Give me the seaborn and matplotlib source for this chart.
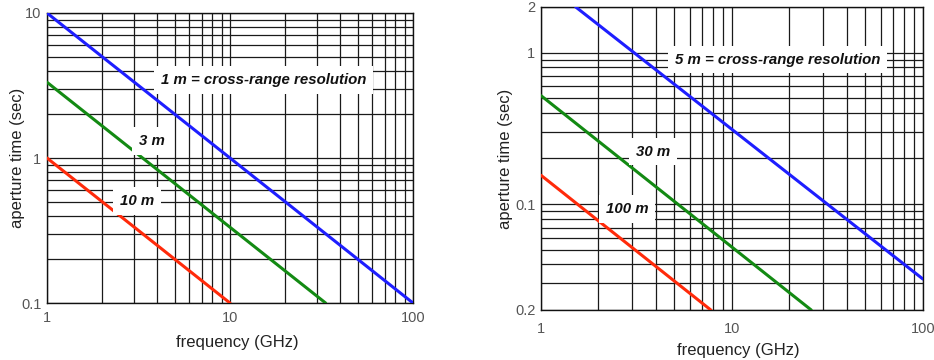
import matplotlib
matplotlib.use("Agg")
import matplotlib.pyplot as plt
import seaborn as sns
import pandas as pd
from matplotlib.ticker import LogLocator, NullFormatter, FixedLocator, FixedFormatter

# ---- data: aperture time vs. frequency for several cross-range resolutions ----
left_res = ["1 m", "3 m", "10 m"]
left_freq_start = [1, 1, 1]
left_freq_end = [100, 33.3, 10]
left_time_start = [10, 3.33, 1.0]
left_time_end = [0.1, 0.1, 0.1]

right_res = ["5 m", "30 m", "100 m"]
right_freq_start = [1.52, 1, 1]
right_freq_end = [100, 26, 7.75]
right_time_start = [2.0, 0.52, 0.155]
right_time_end = [0.032, 0.02, 0.02]

x_ticks = [1, 10, 100]
x_tick_labels = ["1", "10", "100"]
left_y_ticks = [0.1, 1, 10]
left_y_tick_labels = ["0.1", "1", "10"]
right_y_ticks = [0.02, 0.1, 1, 2]
right_y_tick_labels = ["0.2", "0.1", "1", "2"]

left_notes = ["1 m = cross-range resolution", "3 m", "10 m"]
right_notes = ["5 m = cross-range resolution", "30 m", "100 m"]

line_colors = ["#1e1eff", "#138a13", "#ff2a0a"]


def build_frame(res, f0, f1, t0, t1):
    rows = []
    for r, a, b, c, d in zip(res, f0, f1, t0, t1):
        rows.append({"res": r, "freq": a, "time": c})
        rows.append({"res": r, "freq": b, "time": d})
    return pd.DataFrame(rows)


left_df = build_frame(left_res, left_freq_start, left_freq_end, left_time_start, left_time_end)
right_df = build_frame(right_res, right_freq_start, right_freq_end, right_time_start, right_time_end)

sns.set_theme(style="white")
plt.rcParams["font.family"] = ["Liberation Sans", "DejaVu Sans"]

fig = plt.figure(figsize=(9.34, 3.6), dpi=100)
ax_l = fig.add_axes([0.0503, 0.1583, 0.3919, 0.8056])
ax_r = fig.add_axes([0.5792, 0.1389, 0.4090, 0.8417])


def style_axes(ax, df, res, xlim, ylim, yticks, yticklabels, xpad):
    sns.lineplot(data=df, x="freq", y="time", hue="res", hue_order=res,
                 palette=line_colors, legend=False, ax=ax, linewidth=2.2,
                 zorder=3)
    ax.set_xscale("log")
    ax.set_yscale("log")
    ax.set_xlim(*xlim)
    ax.set_ylim(*ylim)
    ax.xaxis.set_major_locator(FixedLocator(x_ticks))
    ax.xaxis.set_major_formatter(FixedFormatter(x_tick_labels))
    ax.yaxis.set_major_locator(FixedLocator(yticks))
    ax.yaxis.set_major_formatter(FixedFormatter(yticklabels))
    for axis in (ax.xaxis, ax.yaxis):
        axis.set_minor_locator(LogLocator(base=10, subs=range(2, 10), numticks=20))
        axis.set_minor_formatter(NullFormatter())
    ax.grid(True, which="both", color="#1a1a1a", linewidth=0.9, zorder=1)
    ax.set_axisbelow(True)
    ax.tick_params(which="both", length=0, labelsize=10.5, labelcolor="#555555")
    ax.tick_params(axis="x", pad=xpad)
    ax.tick_params(axis="y", pad=4)
    for s in ax.spines.values():
        s.set_color("#111111")
        s.set_linewidth(1.0)
    ax.set_xlabel("frequency (GHz)", fontsize=12, color="#222222")
    ax.set_ylabel("aperture time (sec)", fontsize=12, color="#222222")


style_axes(ax_l, left_df, left_res, (1, 100), (0.1, 10),
           left_y_ticks, left_y_tick_labels, 6)
style_axes(ax_r, right_df, right_res, (1, 100), (0.02, 2),
           right_y_ticks, right_y_tick_labels, 9)

ax_l.xaxis.set_label_coords(0.52, -0.11)
ax_l.yaxis.set_label_coords(-0.06, 0.5)
ax_r.xaxis.set_label_coords(0.516, -0.108)
ax_r.yaxis.set_label_coords(-0.073, 0.5)

# labelled resolution curves
box = dict(boxstyle="square,pad=0.45", facecolor="white", edgecolor="none")
left_note_pos = [(15.2, 3.45), (3.75, 1.31), (3.1, 0.505)]
right_note_pos = [(17.4, 0.90), (3.86, 0.222), (2.82, 0.093)]
for ax, notes, pos in ((ax_l, left_notes, left_note_pos), (ax_r, right_notes, right_note_pos)):
    for txt, (fx, ty) in zip(notes, pos):
        ax.text(fx, ty, txt, ha="center", va="center", fontsize=10.8,
                fontweight="bold", fontstyle="italic", color="#111111",
                bbox=box, zorder=5)

fig.savefig("out.png", dpi=100)
